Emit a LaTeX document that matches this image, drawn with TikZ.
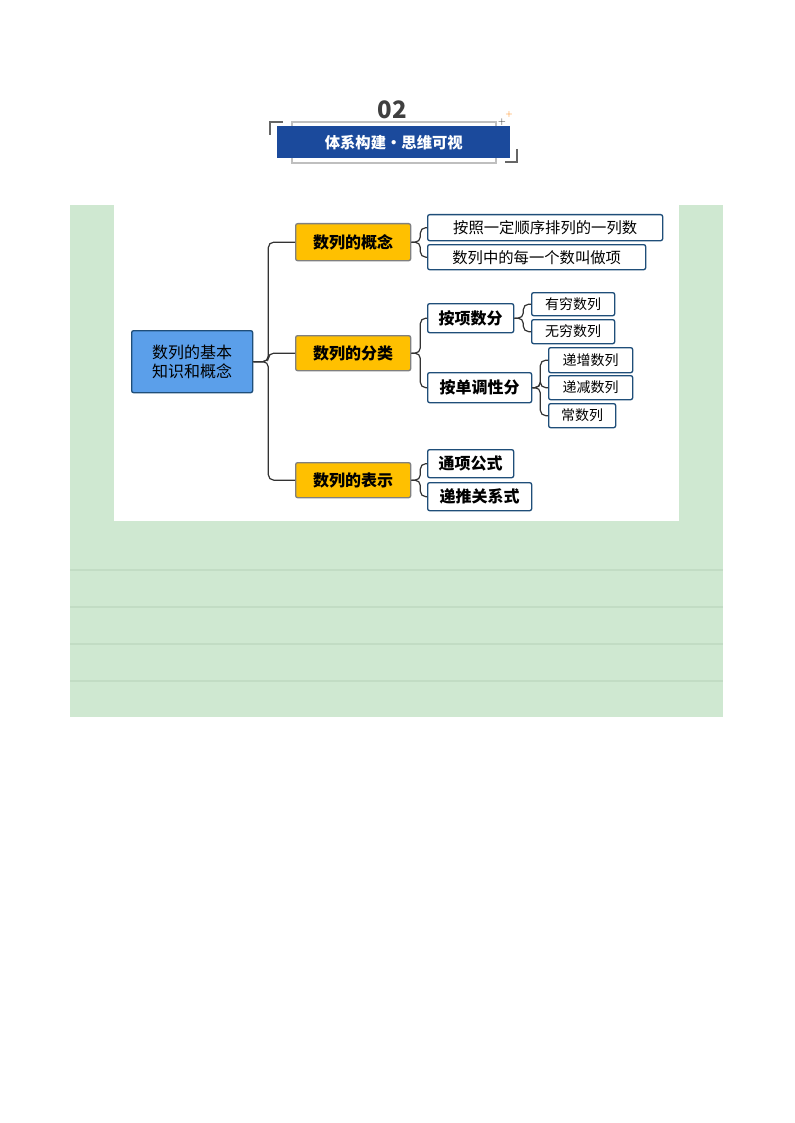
\documentclass[tikz,border=0pt]{standalone}
\usepackage{fontspec}
\newfontfamily\cjk{Noto Sans CJK SC}
\newfontfamily\cjkb{Noto Sans CJK SC}[BoldFont={* Bold}]
\definecolor{gbg}{HTML}{CFE8D1}
\definecolor{gline}{HTML}{C2DCC4}
\definecolor{rootf}{HTML}{5B9FEA}
\definecolor{bord}{HTML}{1F4E79}
\definecolor{yel}{HTML}{FFC000}
\definecolor{ban}{HTML}{1B4A9C}
\begin{document}
\begin{tikzpicture}[x=0.75pt,y=-0.75pt,
 base/.style={draw,line width=1pt,rounded corners=1.5pt,inner sep=0pt,anchor=north west},
 root/.style={base,fill=rootf,draw=bord,font=\cjk\fontsize{12}{14}\selectfont,align=center},
 lone/.style={base,fill=yel,draw=gray,font=\cjk\bfseries\fontsize{12}{14}\selectfont},
 lb/.style={base,fill=white,draw=bord,font=\cjk\bfseries\fontsize{12}{14}\selectfont},
 lr/.style={base,fill=white,draw=bord,font=\cjk\fontsize{11.5}{13}\selectfont},
 ls/.style={base,fill=white,draw=bord,font=\cjk\fontsize{10.5}{12}\selectfont},
 con/.style={line width=0.9pt,draw=black!80,rounded corners=4pt}]
\useasboundingbox (0,0) rectangle (794,1123);
\fill[white] (0,0) rectangle (794,1123);
% green panel
\fill[gbg] (70,205) rectangle (723,717);
\foreach \y in {570,607,644,681} \draw[gline,line width=1pt] (70,\y) -- (723,\y);
\fill[white] (114,205) rectangle (679,521);
% title
\node[font=\cjk\bfseries\fontsize{18}{20}\selectfont,text=black!75] (num) at (392,110) {02};
\draw[black!25,line width=0.8pt] (292,122) rectangle (496,163);
\draw[black!60,line width=1pt] (270,135) -- (270,122) -- (283,122);
\draw[black!60,line width=1pt] (517,149) -- (517,162) -- (505,162);
\node[fill=ban,minimum width=233*0.75pt,minimum height=32*0.75pt,inner sep=0pt,anchor=north west,text=white,font=\cjk\bfseries\fontsize{11.5}{13}\selectfont] (ban) at (277,126) {体系构建·思维可视};
\node[font=\fontsize{7}{7}\selectfont,text=black!80,inner sep=0pt] (s1) at (502,122) {+};
\node[font=\fontsize{6}{6}\selectfont,text=orange,inner sep=0pt] (s2) at (509,115) {+};
% nodes
\node[root,minimum width=121*0.75pt,minimum height=62*0.75pt] (r) at (131,330) {数列的基本\\知识和概念};
\node[lone,minimum width=115*0.75pt,minimum height=37*0.75pt] (a) at (295,223) {数列的概念};
\node[lone,minimum width=115*0.75pt,minimum height=35*0.75pt] (b) at (295,335) {数列的分类};
\node[lone,minimum width=115*0.75pt,minimum height=35*0.75pt] (c) at (295,462) {数列的表示};
\node[lr,minimum width=235*0.75pt,minimum height=26*0.75pt] (a1) at (427,214) {按照一定顺序排列的一列数};
\node[lr,minimum width=218*0.75pt,minimum height=25*0.75pt] (a2) at (427,244) {数列中的每一个数叫做项};
\node[lb,minimum width=86*0.75pt,minimum height=29*0.75pt] (b1) at (427,303) {按项数分};
\node[lb,minimum width=104*0.75pt,minimum height=30*0.75pt] (b2) at (427,372) {按单调性分};
\node[ls,minimum width=83*0.75pt,minimum height=23*0.75pt] (b11) at (531,292) {有穷数列};
\node[ls,minimum width=83*0.75pt,minimum height=24*0.75pt] (b12) at (531,319) {无穷数列};
\node[ls,minimum width=84*0.75pt,minimum height=25*0.75pt] (b21) at (548,347) {递增数列};
\node[ls,minimum width=84*0.75pt,minimum height=24*0.75pt] (b22) at (548,375) {递减数列};
\node[ls,minimum width=67*0.75pt,minimum height=24*0.75pt] (b23) at (548,403) {常数列};
\node[lb,minimum width=86*0.75pt,minimum height=28*0.75pt] (c1) at (427,449) {通项公式};
\node[lb,minimum width=104*0.75pt,minimum height=28*0.75pt] (c2) at (427,482) {递推关系式};
% connectors
\foreach \t in {a,b,c} \draw[con] (r.east) -- ++(15,0) |- (\t.west);
\foreach \t in {a1,a2} \draw[con] (a.east) -- ++(9,0) |- (\t.west);
\foreach \t in {b1,b2} \draw[con] (b.east) -- ++(9,0) |- (\t.west);
\foreach \t in {c1,c2} \draw[con] (c.east) -- ++(9,0) |- (\t.west);
\foreach \t in {b11,b12} \draw[con] (b1.east) -- ++(9,0) |- (\t.west);
\foreach \t in {b21,b22,b23} \draw[con] (b2.east) -- ++(8,0) |- (\t.west);
\end{tikzpicture}
\end{document}
